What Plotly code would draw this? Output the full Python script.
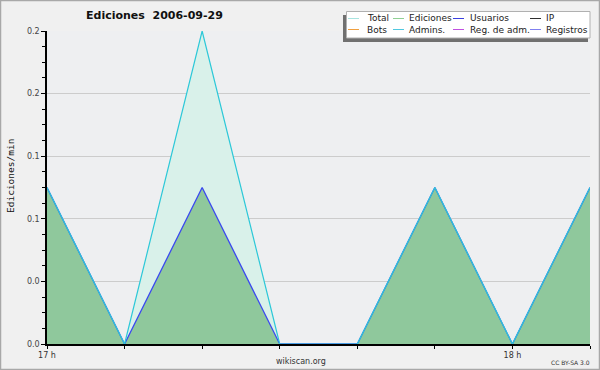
import plotly.graph_objects as go

# ---- data ----
times = ["2006-09-29 17:00", "2006-09-29 17:10", "2006-09-29 17:20", "2006-09-29 17:30",
         "2006-09-29 17:40", "2006-09-29 17:50", "2006-09-29 18:00", "2006-09-29 18:10"]
total = [0.1, 0.0, 0.2, 0.0, 0.0, 0.1, 0.0, 0.1]
ediciones = [0.1, 0.0, 0.1, 0.0, 0.0, 0.1, 0.0, 0.1]
usuarios = [0.1, 0.0, 0.1, 0.0, 0.0, 0.1, 0.0, 0.1]

x_tickvals = times
x_ticktext = ["17 h", "", "", "", "", "", "18 h", ""]
y_tickvals = [0.0, 0.04, 0.08, 0.12, 0.16, 0.2]
y_ticktext = ["0.0", "0.0", "0.1", "0.1", "0.2", "0.2"]

legend_names = ["Total", "Ediciones", "Usuarios", "IP",
                "Bots", "Admins.", "Reg. de adm.", "Registros"]
legend_colors = ["#a8e4e0", "#90d094", "#3a40e0", "#303030",
                 "#f0a040", "#50c8e0", "#c050e0", "#8080f0"]

# ---- layout helpers (pixel -> paper) ----
L, R, T, B = 47, 590, 31, 344
W, H = 600, 370
def px(x):
    return (x - L) / (R - L)
def py(y):
    return (B - y) / (B - T)

fig = go.Figure()

# fills
fig.add_trace(go.Scatter(x=times, y=total, mode="lines", fill="tozeroy",
                         fillcolor="#d9f1ea", line=dict(width=0), showlegend=False,
                         hoverinfo="skip"))
fig.add_trace(go.Scatter(x=times, y=ediciones, mode="lines", fill="tozeroy",
                         fillcolor="#8fc89c", line=dict(width=0), showlegend=False,
                         hoverinfo="skip"))
# lines
fig.add_trace(go.Scatter(x=times, y=usuarios, mode="lines",
                         line=dict(color="#3a48f0", width=1.3), showlegend=False))
fig.add_trace(go.Scatter(x=times, y=total, mode="lines",
                         line=dict(color="#2cc8d8", width=1.2), showlegend=False))

shapes = []
annotations = []

# outer border
shapes.append(dict(type="rect", xref="paper", yref="paper",
                   x0=px(0.5), x1=px(W - 0.5), y0=py(H - 0.5), y1=py(0.5),
                   line=dict(color="#a8a8a8", width=1.5), layer="above"))

# legend shadow and box
shapes.append(dict(type="rect", xref="paper", yref="paper",
                   x0=px(343), x1=px(588), y0=py(42), y1=py(15),
                   line=dict(width=0), fillcolor="#707070", layer="above"))
shapes.append(dict(type="rect", xref="paper", yref="paper",
                   x0=px(346.5), x1=px(590), y0=py(38), y1=py(11.5),
                   line=dict(color="#b0b0b0", width=1), fillcolor="#ffffff", layer="above"))

line_x = [348, 393, 453, 530]
text_x = [366, 408, 469, 545]
rows_y = [18.5, 29.5]
for i, (name, col) in enumerate(zip(legend_names, legend_colors)):
    r, c = divmod(i, 4)
    yy = rows_y[r]
    shapes.append(dict(type="line", xref="paper", yref="paper",
                       x0=px(line_x[c]), x1=px(line_x[c] + 11), y0=py(yy), y1=py(yy),
                       line=dict(color=col, width=1), layer="above"))
    annotations.append(dict(text=name, xref="paper", yref="paper",
                            x=px(text_x[c] - 1), y=py(yy), xanchor="left", yanchor="middle",
                            showarrow=False,
                            font=dict(family="DejaVu Sans", size=9, color="#222222")))

# title
annotations.append(dict(text="<b>Ediciones  2006-09-29</b>", xref="paper", yref="paper",
                        x=px(84), y=py(16), xanchor="left", yanchor="middle", showarrow=False,
                        font=dict(family="DejaVu Sans", size=11, color="#111111")))
# y axis title
annotations.append(dict(text="Ediciones/min", xref="paper", yref="paper",
                        x=px(10), y=py(176), xanchor="center", yanchor="middle",
                        textangle=-90, showarrow=False,
                        font=dict(family="DejaVu Sans Mono", size=9.5, color="#111111")))
# footer
annotations.append(dict(text="wikiscan.org", xref="paper", yref="paper",
                        x=px(301), y=py(361), xanchor="center", yanchor="middle", showarrow=False,
                        font=dict(family="DejaVu Sans", size=8, color="#333333")))
annotations.append(dict(text="CC BY-SA 3.0", xref="paper", yref="paper",
                        x=px(592), y=py(362), xanchor="right", yanchor="middle", showarrow=False,
                        font=dict(family="DejaVu Sans", size=6, color="#333333")))

fig.update_layout(
    width=W, height=H,
    margin=dict(l=L, r=W - R, t=T, b=H - B, pad=0),
    paper_bgcolor="#f0f0f0", plot_bgcolor="#eeeff1",
    showlegend=False,
    shapes=shapes, annotations=annotations,
    xaxis=dict(type="date", range=[times[0], times[-1]],
               tickvals=x_tickvals, ticktext=x_ticktext,
               ticks="outside", ticklen=3, tickcolor="#000000", tickwidth=1,
               showline=True, linecolor="#000000", linewidth=1.5,
               showgrid=False, zeroline=False,
               tickfont=dict(family="DejaVu Sans", size=8, color="#333333")),
    yaxis=dict(range=[0, 0.2], tickvals=y_tickvals, ticktext=y_ticktext,
               ticks="outside", ticklen=4, tickcolor="#000000", tickwidth=1,
               minor=dict(dtick=0.01, ticks="outside", ticklen=3, tickcolor="#000000",
                          showgrid=False),
               showline=True, linecolor="#000000", linewidth=1.5,
               showgrid=True, gridcolor="#cccccc", gridwidth=1, zeroline=False,
               tickfont=dict(family="DejaVu Sans", size=8, color="#444444")),
)

fig.write_html("out.html", config={"displayModeBar": False},
               post_script="document.body.style.margin='0';document.body.style.overflow='hidden';")
